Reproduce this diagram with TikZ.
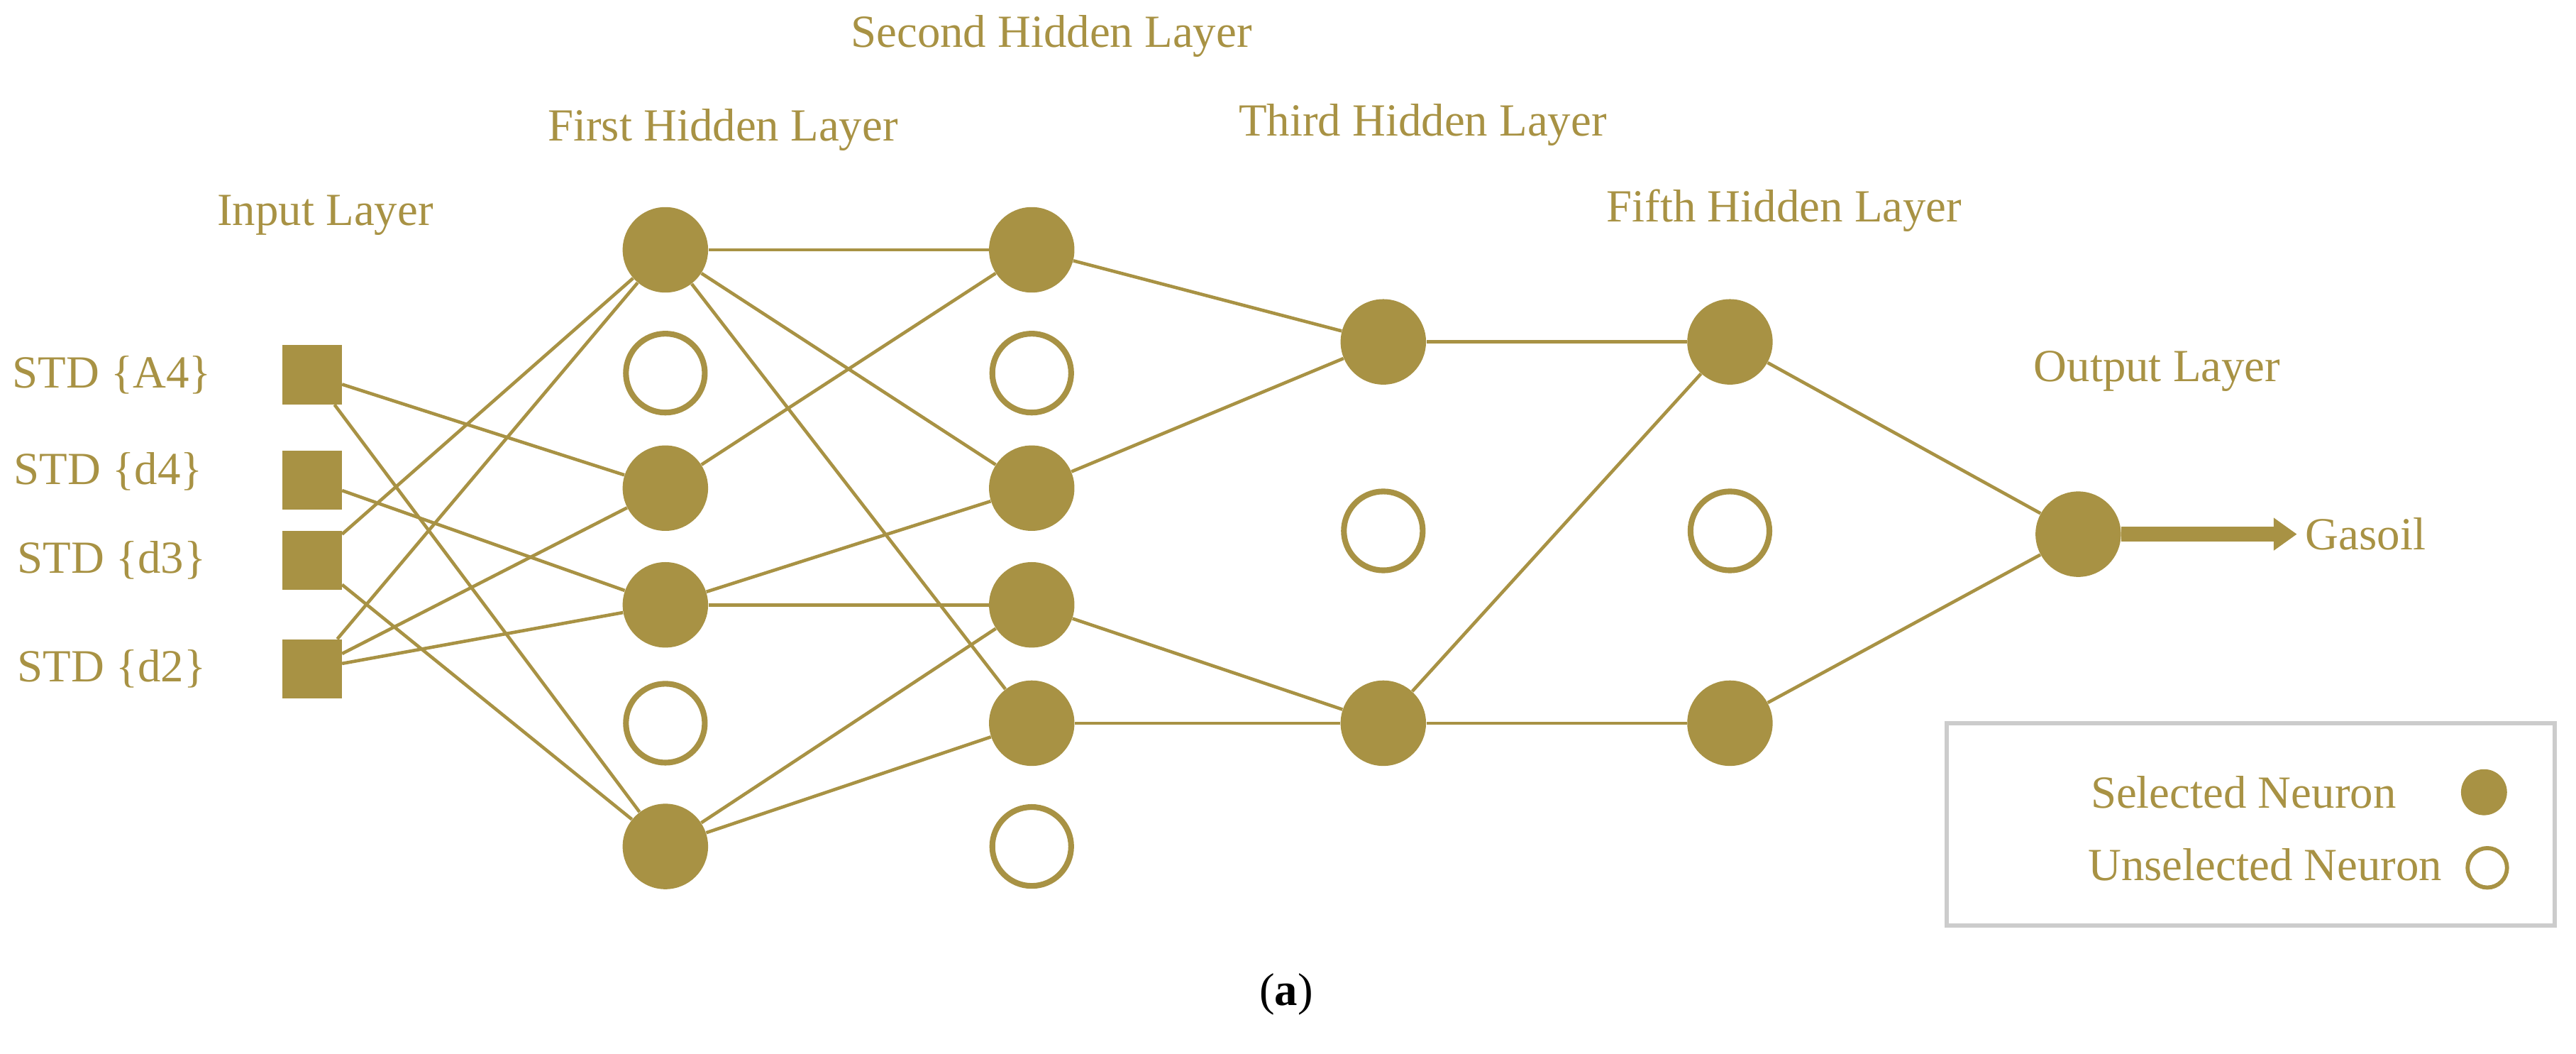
\documentclass[tikz,border=0pt]{standalone}
\usepackage{fontspec}
\setmainfont{Liberation Serif}
\begin{document}
\definecolor{gold}{HTML}{A89244}
\begin{tikzpicture}[x=1pt,y=-1pt,
  sel/.style={circle,fill=gold,minimum size=52pt,inner sep=0pt},
  uns/.style={circle,draw=gold,line width=3.5pt,fill=white,minimum size=48pt,inner sep=0pt},
  inp/.style={rectangle,fill=gold,minimum width=36pt,minimum height=36pt,inner sep=0pt},
  lbl/.style={text=gold,font=\fontsize{28}{32}\selectfont},
  edge/.style={draw=gold,line width=2pt}]
\useasboundingbox (0,0) rectangle (1568,641);
% inputs
\node[inp] (i1) at (190,228) {};
\node[inp] (i2) at (190,292) {};
\node[inp] (i3) at (190,341) {};
\node[inp] (i4) at (190,407) {};
\node[lbl] (t1) at (68,228) {STD \{A4\}};
\node[lbl] (t2) at (66,287) {STD \{d4\}};
\node[lbl] (t3) at (68,341) {STD \{d3\}};
\node[lbl] (t4) at (68,407) {STD \{d2\}};
% layer 1
\node[sel] (a1) at (405,152) {};
\node[uns] (a2) at (405,227) {};
\node[sel] (a3) at (405,297) {};
\node[sel] (a4) at (405,368) {};
\node[uns] (a5) at (405,440) {};
\node[sel] (a6) at (405,515) {};
% layer 2
\node[sel] (b1) at (628,152) {};
\node[uns] (b2) at (628,227) {};
\node[sel] (b3) at (628,297) {};
\node[sel] (b4) at (628,368) {};
\node[sel] (b5) at (628,440) {};
\node[uns] (b6) at (628,515) {};
% layer 3
\node[sel] (c1) at (842,208) {};
\node[uns] (c2) at (842,323) {};
\node[sel] (c3) at (842,440) {};
% layer 5
\node[sel] (d1) at (1053,208) {};
\node[uns] (d2) at (1053,323) {};
\node[sel] (d3) at (1053,440) {};
% output
\node[sel] (o) at (1265,325) {};
\node[lbl] (g) at (1440,325) {Gasoil};
% edges
\foreach \s/\t in {i1/a3,i1/a6,i2/a4,i3/a1,i3/a6,i4/a1,i4/a3,i4/a4,
  a1/b1,a1/b3,a1/b5,a3/b1,a4/b3,a4/b4,a6/b4,a6/b5,
  b1/c1,b3/c1,b4/c3,b5/c3,c1/d1,c3/d1,c3/d3,d1/o,d3/o}
  \path[edge] (\s) -- (\t);
\coordinate (oe) at (1388,325);
\draw[draw=gold,line width=9pt] (o.east) -- (oe);
\fill[gold] (1384,315) -- (1398,325) -- (1384,335) -- cycle;
% titles
\node[lbl] (L0) at (198,131) {Input Layer};
\node[lbl] (L1) at (440,79) {First Hidden Layer};
\node[lbl] (L2) at (640,22) {Second Hidden Layer};
\node[lbl] (L3) at (866,76) {Third Hidden Layer};
\node[lbl] (L5) at (1086,128) {Fifth Hidden Layer};
\node[lbl] (LO) at (1313,226) {Output Layer};
% legend
\node[draw=black!20,line width=2.5pt,minimum width=370pt,minimum height=123pt,inner sep=0pt] (leg) at (1370,501.5) {};
\node[lbl,anchor=east] (ls) at (1462,482) {Selected Neuron};
\node[circle,fill=gold,minimum size=28pt,inner sep=0pt] (lc1) at (1512,482) {};
\node[lbl,anchor=east] (lu) at (1490,526) {Unselected Neuron};
\node[circle,draw=gold,line width=2.5pt,minimum size=24pt,inner sep=0pt] (lc2) at (1514,528) {};
\node[font=\fontsize{28}{32}\selectfont] (cap) at (783,605) {(\textbf{a})};
\end{tikzpicture}
\end{document}
